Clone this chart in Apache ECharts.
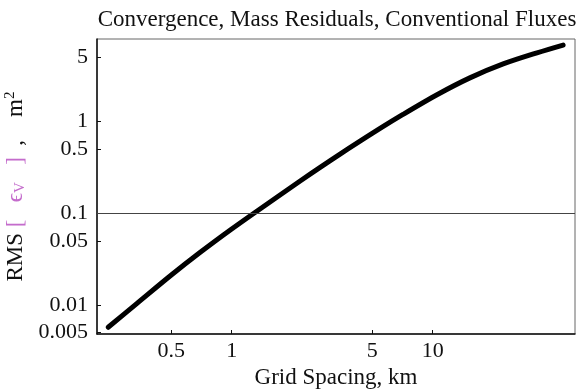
<!DOCTYPE html>
<html>
<head>
<meta charset="utf-8">
<script src="https://cdn.jsdelivr.net/npm/echarts@6/dist/echarts.min.js"></script>
<style>
  html, body { margin: 0; padding: 0; background: #fff; }
  #chart { width: 585px; height: 390px; }
</style>
</head>
<body>
<div id="chart"></div>
<script>
    // grid spacing (km) and RMS of mass residuals (m^2)
    var gridSpacing = [0.243, 0.337, 0.499, 0.695, 0.98, 1.306, 2.19, 3.46, 5.47, 7.11, 10.5, 15.3, 22.4, 33.0, 44.5];
    var rmsResidual = [0.00569, 0.0103, 0.0210, 0.0372, 0.0652, 0.102, 0.225, 0.442, 0.843, 1.20, 1.97, 3.01, 4.27, 5.65, 6.87];
    var xTicks = [0.5, 1, 5, 10];
    var yTicks = [0.005, 0.01, 0.05, 0.1, 0.5, 1, 5];
    var refLevel = 0.1;

    var serif = '"Liberation Serif", "DejaVu Serif", serif';
    var chart = echarts.init(document.getElementById('chart'));

    var option = {
        animation: false,
        backgroundColor: '#fff',
        title: {
            text: 'Convergence, Mass Residuals, Conventional Fluxes',
            left: 332,
            textAlign: 'center',
            top: 3,
            textStyle: { fontFamily: serif, fontWeight: 'normal', fontSize: 23, color: '#111' }
        },
        grid: {
            left: 97, right: 10, top: 39, bottom: 56,
            outerBoundsMode: 'none',
            containLabel: false,
            show: true, borderColor: '#666', borderWidth: 1
        },
        xAxis: {
            type: 'log',
            logBase: 10,
            min: 0.2138,
            max: 51,
            name: 'Grid Spacing, km',
            nameLocation: 'middle',
            nameGap: 31,
            nameTextStyle: { fontFamily: serif, fontSize: 23, color: '#111' },
            axisLine: { lineStyle: { color: '#111', width: 1.5 } },
            axisTick: { inside: true, length: 4, customValues: xTicks, lineStyle: { color: '#111' } },
            axisLabel: {
                customValues: xTicks,
                fontFamily: serif, fontSize: 22, color: '#111', margin: 6,
                formatter: function (v) { return String(v); }
            },
            splitLine: { show: false },
            minorTick: { show: false }
        },
        yAxis: {
            type: 'log',
            logBase: 10,
            min: 0.0048,
            max: 8,
            name: 'RMS {p|[   \u03F5}{s|V}{p|   ]}  ,    m{sup|2}',
            nameLocation: 'middle',
            nameRotate: 90,
            nameGap: 58,
            nameTextStyle: {
                fontFamily: serif, fontSize: 23, color: '#111',
                rich: {
                    p: { fontFamily: serif, fontSize: 23, color: '#c46ccc' },
                    s: { fontFamily: serif, fontSize: 15, color: '#c46ccc', padding: [8, 0, 0, 0] },
                    sup: { fontFamily: serif, fontSize: 15, color: '#111', padding: [0, 0, 12, 0] }
                }
            },
            axisLine: { lineStyle: { color: '#111', width: 1.5 } },
            axisTick: { inside: true, length: 4, customValues: yTicks, lineStyle: { color: '#111' } },
            axisLabel: {
                customValues: yTicks,
                fontFamily: serif, fontSize: 22, color: '#111', margin: 9,
                formatter: function (v) { return String(v); }
            },
            splitLine: { show: false },
            minorTick: { show: false }
        },
        series: [{
            type: 'line',
            data: gridSpacing.map(function (x, i) { return [x, rmsResidual[i]]; }),
            smooth: 0.3,
            showSymbol: false,
            lineStyle: { color: '#000', width: 5, cap: 'round' },
            markLine: {
                silent: true,
                symbol: 'none',
                label: { show: false },
                lineStyle: { color: '#444', width: 1, type: 'solid' },
                data: [{ yAxis: refLevel }]
            }
        }]
    };
    chart.setOption(option);
</script>
</body>
</html>
